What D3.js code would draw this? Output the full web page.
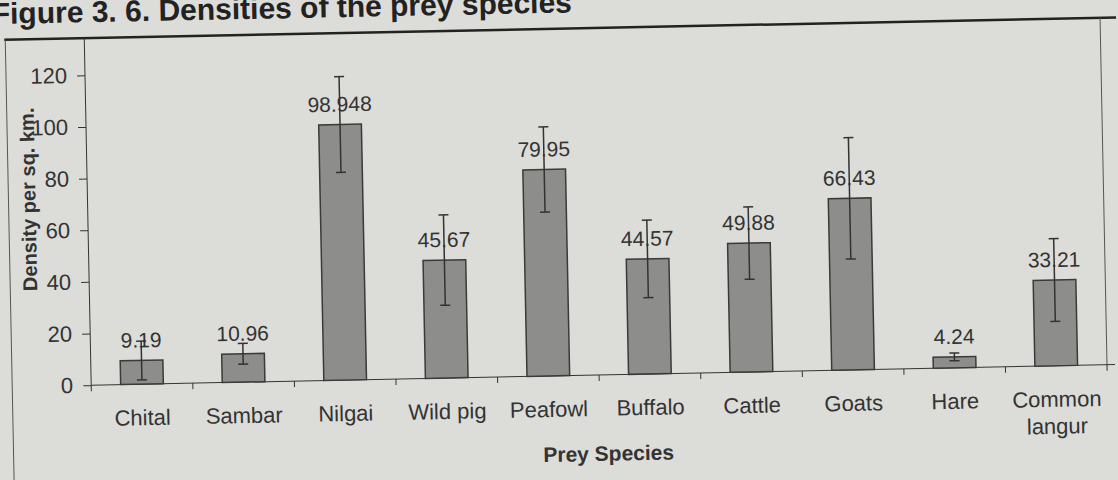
<!DOCTYPE html>
<html>
<head>
<meta charset="utf-8">
<script src="https://cdn.jsdelivr.net/npm/d3@7"></script>
<style>
  body { margin: 0; background: #dcdcd9; }
  svg { display: block; font-family: 'Liberation Sans', Arial, sans-serif; }
</style>
</head>
<body>
<svg id="chart" width="1118" height="480"></svg>
<script>
// Prey densities (per sq. km) with standard error
const species = ['Chital', 'Sambar', 'Nilgai', 'Wild pig', 'Peafowl', 'Buffalo', 'Cattle', 'Goats', 'Hare', 'Common langur'];
const density = [9.19, 10.96, 98.948, 45.67, 79.95, 44.57, 49.88, 66.43, 4.24, 33.21];
const stdErr = [7.5, 4, 18.5, 17.5, 16.5, 15, 14, 23.5, 1.5, 16];
const yTicks = [0, 20, 40, 60, 80, 100, 120];

const svg = d3.select('#chart');

// Draw area values
const margin = { top: 65, right: 14, bottom: 105, left: 88 };
const width = 1118 - margin.left - margin.right;
const height = 480 - margin.top - margin.bottom;

// photo of a printed page, slightly tilted
const page = svg.append('g').attr('transform', 'rotate(-1.15, 596, 220)');

// Title (cut off at the top of the photo)
page
  .append('text')
  .attr('x', -4)
  .attr('y', 12)
  .attr('font-size', 30)
  .attr('font-weight', 'bold')
  .attr('fill', '#222')
  .text('Figure 3. 6. Densities of the prey species');

// Frame
page.append('line').attr('x1', 8).attr('x2', 1120).attr('y1', 28).attr('y2', 28).attr('stroke', '#222').attr('stroke-width', 2.5);
page.append('line').attr('x1', 9).attr('x2', 9).attr('y1', 28).attr('y2', 500).attr('stroke', '#555').attr('stroke-width', 1);
page.append('line').attr('x1', 1104).attr('x2', 1104).attr('y1', 28).attr('y2', 375).attr('stroke', '#555').attr('stroke-width', 1);

const g = page.append('g').attr('transform', `translate(${margin.left},${margin.top})`);

// Scales
const x = d3.scaleBand().domain(species).range([0, width]).paddingInner(0.58).paddingOuter(0.29);
const y = d3.scaleLinear().domain([0, 120]).range([height, 0]);

// Y axis
const yAxis = g.append('g').call(d3.axisLeft(y).tickValues(yTicks).tickSize(8).tickPadding(10));
yAxis.select('.domain').attr('stroke', '#333').attr('d', `M0,${height}V${y(120) - 37}`);
yAxis.selectAll('.tick line').attr('stroke', '#333');
yAxis.selectAll('.tick text').attr('font-size', 22).attr('fill', '#333').attr('font-family', 'Liberation Sans, Arial');

// X axis with ticks between categories
g.append('line').attr('x1', 0).attr('x2', width + 8).attr('y1', height).attr('y2', height).attr('stroke', '#333');
g.selectAll('.xtick')
  .data(d3.range(species.length + 1))
  .enter()
  .append('line')
  .attr('x1', (d) => d * (width / species.length))
  .attr('x2', (d) => d * (width / species.length))
  .attr('y1', height)
  .attr('y2', height + 6)
  .attr('stroke', '#333');

// Category labels
const catLabels = g
  .selectAll('.cat')
  .data(species)
  .enter()
  .append('text')
  .attr('text-anchor', 'middle')
  .attr('font-size', 22)
  .attr('fill', '#333')
  .attr('x', (d) => x(d) + x.bandwidth() / 2)
  .attr('y', height + 41);
catLabels.each(function (d) {
  const words = d === 'Common langur' ? ['Common', 'langur'] : [d];
  words.forEach((w, i) => {
    d3.select(this)
      .append('tspan')
      .attr('x', x(d) + x.bandwidth() / 2)
      .attr('dy', i === 0 ? 0 : 27)
      .text(w);
  });
});

// Bars
g.selectAll('.bar')
  .data(density)
  .enter()
  .append('rect')
  .attr('x', (d, i) => x(species[i]))
  .attr('y', (d) => y(d))
  .attr('width', x.bandwidth())
  .attr('height', (d) => height - y(d))
  .attr('fill', '#8d8d8c')
  .attr('stroke', '#3a3a3a')
  .style('stroke-width', '1.5px');

// Error bars
const cx = (i) => x(species[i]) + x.bandwidth() / 2;
const err = g.selectAll('.err').data(density).enter().append('g').attr('stroke', '#333').style('stroke-width', '1.5px');
err.append('line')
  .attr('x1', (d, i) => cx(i))
  .attr('x2', (d, i) => cx(i))
  .attr('y1', (d, i) => y(Math.max(0, d - stdErr[i])))
  .attr('y2', (d, i) => y(d + stdErr[i]));
err.append('line')
  .attr('x1', (d, i) => cx(i) - 5)
  .attr('x2', (d, i) => cx(i) + 5)
  .attr('y1', (d, i) => y(d + stdErr[i]))
  .attr('y2', (d, i) => y(d + stdErr[i]));
err.append('line')
  .attr('x1', (d, i) => cx(i) - 5)
  .attr('x2', (d, i) => cx(i) + 5)
  .attr('y1', (d, i) => y(Math.max(0, d - stdErr[i])))
  .attr('y2', (d, i) => y(Math.max(0, d - stdErr[i])));

// Value labels
g.selectAll('.val')
  .data(density)
  .enter()
  .append('text')
  .attr('text-anchor', 'middle')
  .attr('font-size', 21)
  .attr('fill', '#333')
  .attr('x', (d, i) => cx(i))
  .attr('y', (d) => y(d) - 13)
  .text((d) => String(d));

// Axis titles
g.append('text')
  .attr('text-anchor', 'middle')
  .attr('font-size', 21)
  .attr('font-weight', 'bold')
  .attr('fill', '#333')
  .attr('x', width / 2 + 8)
  .attr('y', height + 86)
  .text('Prey Species');

g.append('text')
  .attr('text-anchor', 'middle')
  .attr('font-size', 20)
  .attr('font-weight', 'bold')
  .attr('fill', '#333')
  .attr('transform', `translate(-52,${y(60) - 32}) rotate(-90)`)
  .text('Density per sq. km.');
</script>
</body>
</html>
